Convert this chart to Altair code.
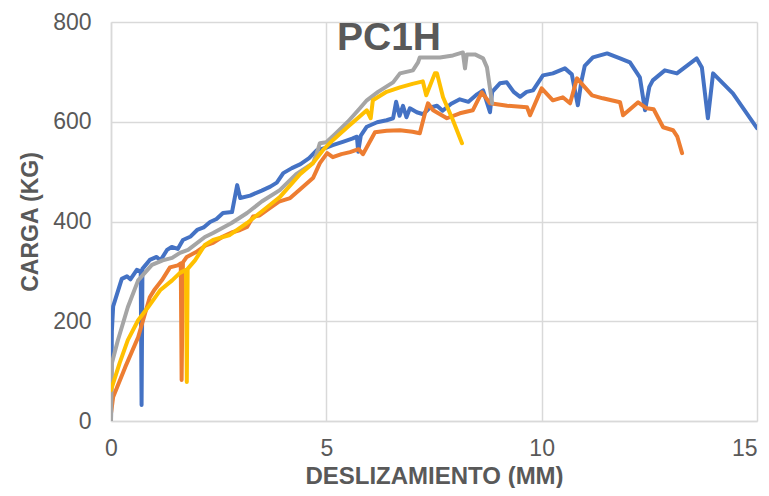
import altair as alt
import pandas as pd

# ---- data ----
blue_x = [0, 0.02, 0.05, 0.25, 0.37, 0.45, 0.6, 0.69, 0.71, 0.73, 0.9, 1.06, 1.15, 1.3, 1.41, 1.55, 1.67,
          1.85, 2.0, 2.15, 2.3, 2.45, 2.6, 2.81, 2.93, 3.0, 3.23, 3.5, 3.7, 3.85, 4.0, 4.2, 4.4, 4.6, 4.78,
          5.0, 5.15, 5.4, 5.6, 5.71, 5.74, 5.8, 5.94, 6.18, 6.4, 6.55, 6.62, 6.7, 6.78, 6.86, 6.94, 7.1,
          7.25, 7.4, 7.57, 7.7, 7.9, 8.1, 8.3, 8.5, 8.64, 8.8, 8.85, 9.03, 9.19, 9.35, 9.5, 9.65, 9.8,
          10.03, 10.26, 10.54, 10.7, 10.84, 10.92, 11.0, 11.19, 11.52, 11.82, 12.05, 12.28, 12.4, 12.5,
          12.58, 12.86, 13.14, 13.6, 13.72, 13.86, 13.98, 14.44, 15.0]
blue_y = [0, 180, 230, 285, 290, 284, 303, 300, 32, 305, 323, 329, 322, 343, 349, 345, 363,
          370, 383, 388, 399, 405, 417, 419, 473, 447, 452, 462, 470, 478, 497, 507, 515, 527, 543,
          548, 553, 560, 566, 570, 540, 572, 590, 599, 603, 607, 640, 612, 632, 609, 627, 619,
          615, 628, 632, 622, 636, 645, 640, 655, 663, 619, 660, 677, 679, 660, 650, 660, 663,
          693, 697, 707, 695, 633, 680, 712, 729, 737, 727, 719, 689, 623, 670,
          683, 703, 697, 727, 709, 607, 697, 657, 587]

orange_x = [0, 0.05, 0.33, 0.63, 0.9, 1.0, 1.18, 1.37, 1.55, 1.62, 1.64, 1.67, 1.76, 2.0, 2.2, 2.37,
            2.6, 2.8, 3.0, 3.16, 3.3, 3.45, 3.62, 3.9, 4.16, 4.4, 4.69, 4.85, 5.02, 5.15, 5.35, 5.55,
            5.75, 5.85, 6.13, 6.4, 6.71, 7.0, 7.17, 7.29, 7.36, 7.48, 7.8, 8.1, 8.4, 8.61, 8.8, 9.2,
            9.66, 9.73, 10.0, 10.26, 10.49, 10.66, 10.82, 11.17, 11.42, 11.82, 11.89, 12.24, 12.44,
            12.6, 12.82, 13.05, 13.15, 13.26]
orange_y = [15, 48, 108, 168, 248, 262, 282, 308, 312, 316, 82, 318, 329, 340, 352, 357,
            370, 378, 383, 389, 410, 412, 423, 440, 447, 465, 487, 517, 537, 529, 535, 539,
            545, 535, 579, 582, 583, 580, 577, 617, 637, 623, 607, 617, 623, 659, 637, 632,
            629, 613, 667, 643, 649, 637, 687, 653, 647, 639, 613, 639, 627,
            625, 589, 583, 570, 537]

gray_x = [0, 0.02, 0.16, 0.39, 0.63, 0.95, 1.2, 1.42, 1.6, 1.79, 2.18, 2.37, 2.8, 3.16, 3.5, 3.92, 4.3,
          4.69, 4.78, 4.85, 5.0, 5.2, 5.5, 5.78, 5.94, 6.2, 6.55, 6.71, 7.01, 7.13, 7.17, 7.48, 7.64,
          7.94, 8.17, 8.22, 8.26, 8.45, 8.64, 8.73, 8.85]
gray_y = [0, 116, 162, 228, 282, 313, 322, 327, 337, 343, 369, 377, 397, 417, 440, 463, 495,
          517, 537, 557, 559, 575, 600, 627, 643, 660, 679, 697, 703, 719, 729, 729, 729,
          733, 739, 707, 735, 735, 727, 709, 637]

yellow_x = [0, 0.2, 0.39, 0.63, 0.86, 1.14, 1.42, 1.6, 1.74, 1.76, 1.78, 1.95, 2.18, 2.37, 2.76, 3.16,
            3.5, 3.92, 4.39, 4.69, 4.92, 5.15, 5.5, 5.94, 6.03, 6.08, 6.4, 6.71, 7.0, 7.24, 7.32, 7.52,
            7.57, 7.71, 7.94, 8.15]
yellow_y = [62, 116, 162, 202, 228, 262, 282, 297, 303, 78, 305, 322, 353, 363, 373, 397,
            420, 449, 495, 517, 543, 563, 590, 623, 607, 643, 660, 669, 676, 681, 653, 697,
            697, 649, 603, 557]

series = [
    ("S1", blue_x, blue_y, "#4472C4"),
    ("S2", orange_x, orange_y, "#ED7D31"),
    ("S3", gray_x, gray_y, "#A5A5A5"),
    ("S4", yellow_x, yellow_y, "#FFC000"),
]

x_ticks = [0, 5, 10, 15]
y_ticks = [0, 200, 400, 600, 800]

FONT = "Liberation Sans"
TXT = "#595959"
GRID = "#d9d9d9"

xscale = alt.Scale(domain=[0, 15], nice=False)
yscale = alt.Scale(domain=[0, 800], nice=False)

layers = []
for i, (name, xs, ys, col) in enumerate(series):
    df = pd.DataFrame({"x": xs, "y": ys, "i": range(len(xs))})
    enc = dict(
        x=alt.X("x:Q", scale=xscale,
                axis=alt.Axis(values=x_ticks, title="DESLIZAMIENTO (MM)", grid=True,
                              ticks=False, labelPadding=16, titlePadding=4,
                              labelFlush=False, titleFontSize=24,
                              labelAlign=alt.expr("datum.value == 15 ? 'right' : 'center'"))),
        y=alt.Y("y:Q", scale=yscale,
                axis=alt.Axis(values=y_ticks, title="CARGA (KG)", grid=True,
                              ticks=False, labelPadding=20, titlePadding=10)),
        order="i:Q",
    )
    layers.append(
        alt.Chart(df).mark_line(color=col, strokeWidth=4, strokeCap="round",
                                strokeJoin="round", clip=True).encode(**enc)
    )

title_df = pd.DataFrame({"t": ["PC1H"]})
title_layer = alt.Chart(title_df).mark_text(
    font=FONT, fontSize=39, fontWeight="bold", color=TXT,
    align="center", baseline="alphabetic"
).encode(text="t:N", x=alt.value(278), y=alt.value(28))

chart = alt.layer(*layers, title_layer).properties(
    width=646, height=399,
    autosize=alt.AutoSizeParams(type="none"),
    padding={"left": 103, "top": 14, "right": 4, "bottom": 67},
).configure_view(stroke=None).configure_axis(
    labelFont=FONT, titleFont=FONT, labelFontSize=23, titleFontSize=23,
    labelColor=TXT, titleColor=TXT, titleFontWeight="bold",
    gridColor=GRID, gridWidth=1.5, domainColor=GRID, domainWidth=1.5,
)

chart.save("out.html", embed_options={"renderer": "svg", "actions": False})
